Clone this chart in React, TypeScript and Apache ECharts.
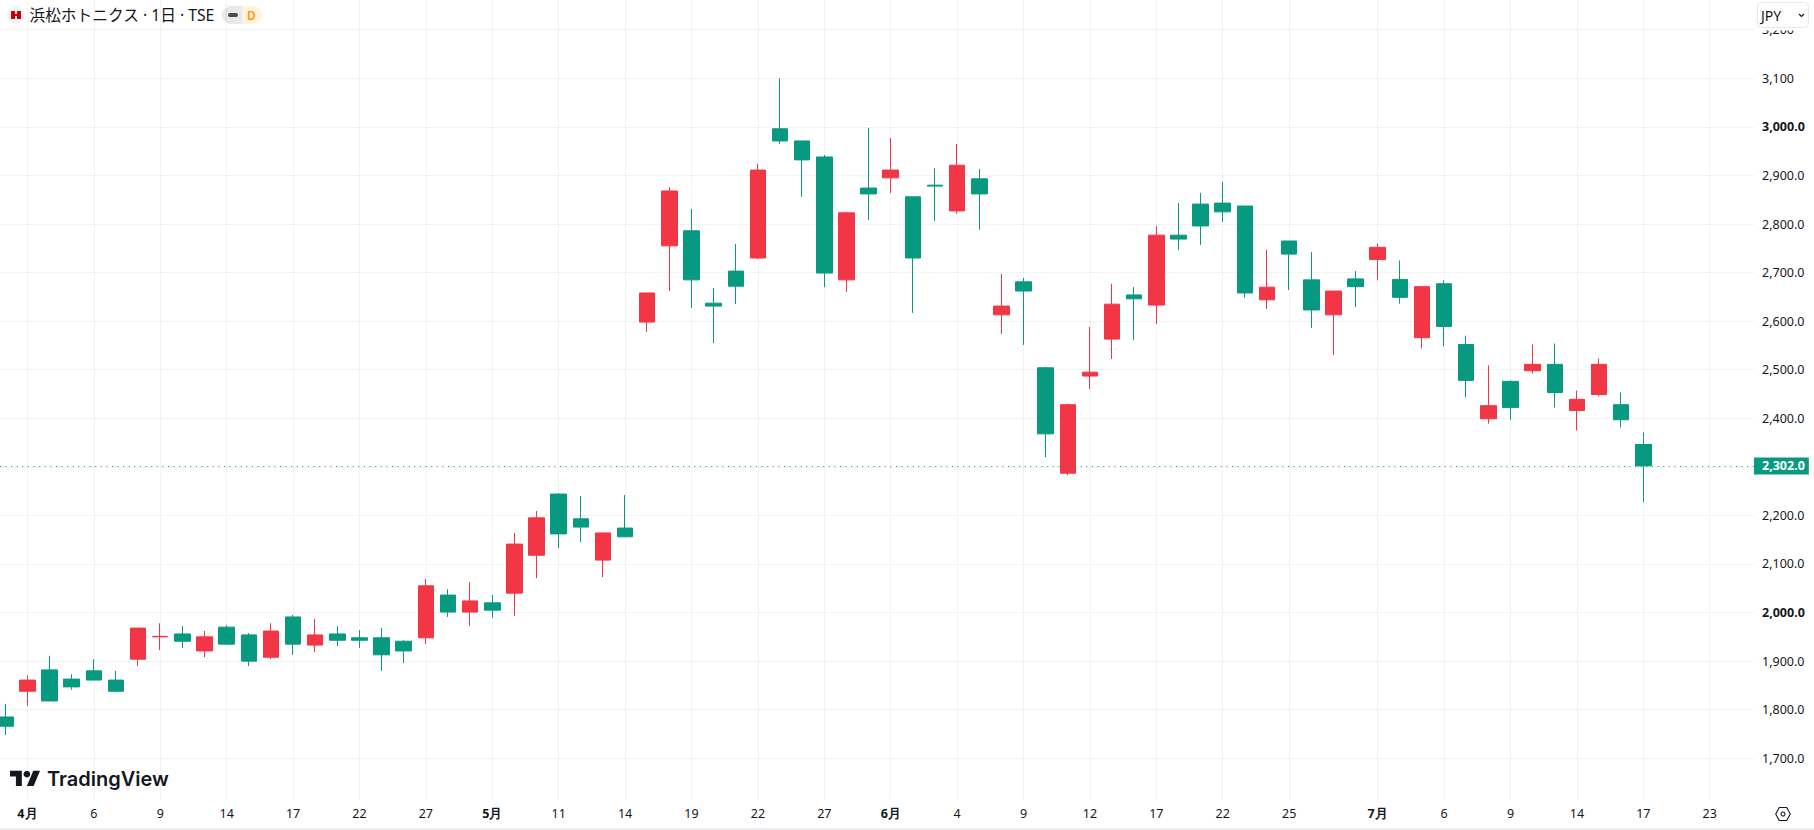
import React, { useEffect, useRef } from "react";
import * as echarts from "echarts";

const TITLE = "浜松ホトニクス · 1日 · TSE";
const LAST_PRICE = 2302;

const opens = [1785,1838,1882,1863,1880,1861,1904,1950,1956,1921,1970,1954,1908,1991,1933,1956,1948,1948,1941,1948,2036,2001,2020,2040,2118,2244,2193,2108,2174,2598,2755,2786,2637,2703,2730,2996,2971,2938,2685,2874,2895,2856,2880,2827,2893,2613,2681,2504,2287,2487,2563,2654,2633,2777,2841,2843,2837,2644,2765,2685,2613,2687,2727,2686,2566,2677,2552,2399,2476,2498,2511,2416,2449,2428,2346];
const closes = [1766,1861,1818,1847,1861,1838,1968,1951,1941,1950,1935,1900,1962,1935,1954,1943,1943,1913,1921,2055,2001,2024,2005,2141,2195,2162,2176,2164,2156,2658,2868,2685,2631,2672,2911,2971,2932,2699,2823,2862,2911,2730,2878,2921,2862,2631,2662,2368,2428,2495,2635,2646,2777,2769,2796,2825,2658,2670,2738,2623,2662,2671,2752,2649,2671,2589,2478,2426,2422,2511,2453,2439,2511,2397,2302];
const lows = [1748,1808,1818,1841,1861,1836,1890,1923,1927,1908,1935,1890,1904,1913,1919,1931,1927,1880,1896,1935,1991,1972,1989,1993,2071,2133,2145,2073,2156,2578,2662,2627,2555,2635,2728,2965,2856,2670,2660,2808,2864,2617,2806,2821,2788,2574,2551,2320,2283,2460,2522,2561,2594,2747,2757,2804,2648,2625,2664,2586,2530,2629,2684,2636,2544,2548,2443,2389,2397,2492,2422,2375,2445,2381,2227];
const highs = [1812,1871,1911,1873,1904,1880,1968,1978,1972,1962,1974,1958,1978,1995,1987,1972,1964,1968,1943,2069,2048,2063,2036,2164,2209,2246,2240,2164,2242,2658,2876,2831,2668,2759,2924,3100,2971,2942,2825,2998,2977,2856,2915,2965,2913,2697,2689,2506,2430,2588,2677,2670,2796,2843,2864,2887,2837,2747,2765,2742,2662,2703,2760,2725,2671,2684,2570,2509,2478,2552,2554,2457,2523,2453,2371];

const tickBars = [1,4,7,10,13,16,19,22,25,28,31,34,37,40,43,46,49,52,55,58,62,65,68,71,74,77];
const tickLabels = ["4月","6","9","14","17","22","27","5月","11","14","19","22","27","6月","4","9","12","17","22","25","7月","6","9","14","17","23"];
const priceTicks = [1700,1800,1900,2000,2100,2200,2300,2400,2500,2600,2700,2800,2900,3000,3100,3200];
const plainPriceTicks = [3100,3200];
const boldPriceTicks = [2000,3000];

const SLOT_COUNT = 81;
const FONT = '"Noto Sans", sans-serif';
const UP = "#F23645";
const DOWN = "#089981";
const INK = "#131722";

const fmtPrice = (v: number) => v.toLocaleString("en-US");

export default function App() {
  const ref = useRef<HTMLDivElement>(null);
  useEffect(() => {
    document.body.style.margin = "0";
    document.body.style.overflow = "hidden";
    try {
      echarts.graphic.registerShape(
        "tvmark",
        echarts.graphic.extendPath("M14 22H7V11H0V4h14v18zM28 22h-8l7.5-18h8L28 22z", {})
      );
    } catch (e) {}
    const chart = echarts.init(ref.current!, undefined, { renderer: "svg" });

    const categories: string[] = new Array(SLOT_COUNT).fill("");
    tickBars.forEach((b, i) => { categories[b + 1] = tickLabels[i]; });
    const isTick = (i: number) => categories[i] !== "";

    const candles: any[] = [["-", "-", "-", "-"]];
    opens.forEach((o, i) => candles.push([o, closes[i], lows[i], highs[i]]));

    chart.setOption({
      animation: false,
      backgroundColor: "#ffffff",
      grid: { left: -16.84, top: 0, width: 1770.84, height: 800, containLabel: false, outerBoundsMode: "none" },
      xAxis: {
        type: "category",
        data: categories,
        boundaryGap: false,
        axisLine: { show: false },
        axisTick: { show: false },
        axisLabel: {
          interval: (i: number) => isTick(i),
          margin: 7,
          fontFamily: FONT,
          fontSize: 12.5,
          color: INK,
          hideOverlap: false,
          formatter: (v: string) => (v.endsWith("月") ? `{m|${v}}` : v),
          rich: { m: { fontFamily: FONT, fontSize: 12.5, fontWeight: "bold", color: INK } },
        },
        splitLine: {
          show: true,
          interval: (i: number) => isTick(i),
          lineStyle: { color: "rgba(42,46,57,0.06)", width: 1 },
        },
      },
      yAxis: {
        type: "value",
        position: "right",
        min: 1614.1,
        max: 3261.2,
        axisLine: { show: false },
        axisTick: { show: false, customValues: priceTicks },
        axisLabel: {
          customValues: priceTicks,
          margin: 8,
          fontFamily: FONT,
          fontSize: 12.5,
          color: "#131722",
          showMinLabel: true,
          showMaxLabel: true,
          formatter: (v: number) => {
            if (plainPriceTicks.includes(v)) return fmtPrice(v);
            const s = fmtPrice(v) + ".0";
            return boldPriceTicks.includes(v) ? `{b|${s}}` : s;
          },
          rich: { b: { fontFamily: FONT, fontSize: 12.5, fontWeight: "bold", color: INK } },
        },
        splitLine: { show: true, lineStyle: { color: "rgba(42,46,57,0.06)", width: 1 } },
      },
      series: [
        {
          type: "candlestick",
          data: candles,
          barWidth: 16,
          itemStyle: { color: UP, color0: DOWN, borderColor: UP, borderColor0: DOWN, borderWidth: 1, borderJoin: "miter" },
          markLine: {
            silent: true,
            symbol: "none",
            precision: 1,
            lineStyle: { color: DOWN, type: [1, 4.6], width: 1 },
            label: {
              show: true,
              position: "end",
              distance: 0,
              formatter: fmtPrice(LAST_PRICE) + ".0",
              backgroundColor: DOWN,
              color: "#ffffff",
              fontFamily: FONT,
              fontSize: 12.5,
              fontWeight: "bold",
              padding: [2, 4, 2, 8],
            },
            data: [{ yAxis: LAST_PRICE }],
          },
        },
      ],
      graphic: [
        // header
        { type: "circle", shape: { cx: 16, cy: 15, r: 9 }, style: { fill: "#f0f3fa" } },
        { type: "rect", shape: { x: 11, y: 11, width: 4, height: 8 }, style: { fill: "#cc0000" } },
        { type: "rect", shape: { x: 17, y: 11, width: 4, height: 8 }, style: { fill: "#cc0000" } },
        { type: "rect", shape: { x: 15, y: 14, width: 2, height: 2 }, style: { fill: "#cc0000" } },
        {
          type: "text", x: 29.5, y: 15,
          style: { text: TITLE, fill: INK, font: '15.7px "Noto Sans", "Noto Sans CJK JP", sans-serif', textVerticalAlign: "middle", textAlign: "left" },
        },
        { type: "rect", shape: { x: 222, y: 6, width: 20, height: 18, r: [9, 0, 0, 9] }, style: { fill: "#e8e8ea" } },
        { type: "rect", shape: { x: 242, y: 6, width: 20, height: 18, r: [0, 9, 9, 0] }, style: { fill: "#fff3e0" } },
        { type: "rect", shape: { x: 228, y: 13, width: 10, height: 4, r: 2 }, style: { fill: "#4a4a50" } },
        {
          type: "text", x: 251.5, y: 15,
          style: { text: "D", fill: "#ff9800", font: '600 12px "Noto Sans", sans-serif', textAlign: "center", textVerticalAlign: "middle" },
        },
        // currency box, hiding the top of the clipped price label
        { type: "rect", z: 20, shape: { x: 1754, y: 0, width: 60, height: 30.5 }, style: { fill: "#ffffff" } },
        { type: "rect", z: 21, shape: { x: 1757.5, y: 2.5, width: 51, height: 25, r: 4 }, style: { fill: "#ffffff", stroke: "#e6e8ee", lineWidth: 1 } },
        {
          type: "text", z: 22, x: 1761, y: 15,
          style: { text: "JPY", fill: INK, font: '14px "Noto Sans", sans-serif', textVerticalAlign: "middle", textAlign: "left" },
        },
        { type: "polyline", z: 22, shape: { points: [[1799, 14], [1801.5, 16.5], [1804, 14]] }, style: { stroke: INK, lineWidth: 1.2, fill: "none" } },
        // watermark
        {
          type: "group", x: 10, y: 767.3, scaleX: 0.845, scaleY: 0.845, z: 5,
          children: [
            { type: "tvmark", style: { fill: INK } },
            { type: "circle", shape: { cx: 20, cy: 8, r: 4 }, style: { fill: INK } },
          ],
        },
        {
          type: "text", z: 5, x: 47, y: 779,
          style: { text: "TradingView", fill: INK, font: '600 20px Inter, sans-serif', textVerticalAlign: "middle", textAlign: "left" },
        },
        // settings icon
        {
          type: "polygon",
          shape: { points: [[1775.7, 814], [1779.3, 807.5], [1786.7, 807.5], [1790.3, 814], [1786.7, 820.5], [1779.3, 820.5]] },
          style: { fill: "none", stroke: INK, lineWidth: 1.1 },
        },
        { type: "circle", shape: { cx: 1783, cy: 814, r: 2 }, style: { fill: "none", stroke: INK, lineWidth: 1.1 } },
        // bottom border
        { type: "rect", shape: { x: 0, y: 828, width: 1814, height: 2 }, style: { fill: "#eeeef0" } },
      ],
    });
    return () => chart.dispose();
  }, []);
  return <div ref={ref} style={{ position: "absolute", left: 0, top: 0, width: 1814, height: 830 }} />;
}
